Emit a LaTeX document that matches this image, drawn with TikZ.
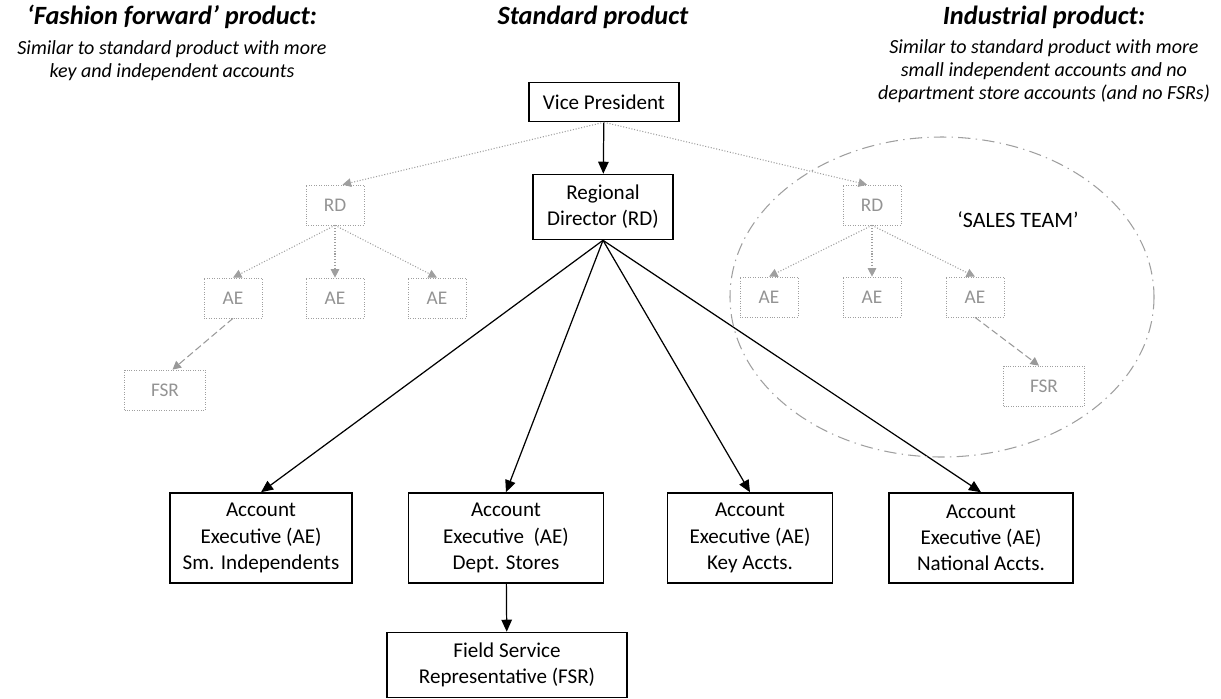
\documentclass[tikz,border=0pt]{standalone}
\usepackage{fontspec}
\setmainfont{Carlito}
\usetikzlibrary{arrows.meta}
\tikzset{
  box/.style={draw, line width=0.9pt, align=center, inner sep=2pt,
    font=\fontsize{12}{14.9}\selectfont},
  ghost/.style={draw=gray!75, densely dotted, text=gray!85, inner sep=1pt,
    minimum width=1.16cm, minimum height=0.8cm, font=\fontsize{11}{13}\selectfont},
  tarr/.style={line width=0.7pt, -{Triangle[length=2.4mm,width=2.1mm]}},
  garr/.style={gray!75, densely dotted, line width=0.6pt,
    -{Triangle[length=1.7mm,width=1.7mm]}},
  gdash/.style={gray!80, dash pattern=on 4pt off 2pt, line width=0.6pt,
    -{Triangle[length=1.7mm,width=1.7mm]}},
  head/.style={font=\fontsize{15}{18}\selectfont\bfseries\itshape},
  sub/.style={align=center, font=\fontsize{11.4}{13.2}\selectfont\itshape}
}

\begin{document}
\begin{tikzpicture}[x=0.02cm, y=-0.02cm]
  \useasboundingbox (0,0) rectangle (1221,698);
  % headings
  \node[head] (hff) at (172,17) {‘Fashion forward’ product:};
  \node[head] (hst) at (593,17) {Standard product};
  \node[head] (hin) at (1044,17) {Industrial product:};
  \node[sub] (sff) at (172,61) {Similar to standard product with more\\key and independent accounts};
  \node[sub] (sin) at (1044,71) {Similar to standard product with more\\small independent accounts and no\\department store accounts (and no FSRs)};

  % standard product
  \node[box, minimum width=3cm, minimum height=0.78cm] (vp) at (604,102) {Vice President};
  \node[box, minimum width=2.8cm, minimum height=1.3cm] (rd) at (603,207) {Regional\\Director (RD)};
  \node[box, minimum width=3.64cm, minimum height=1.8cm] (ae1) at (261,538) {Account\\Executive (AE)\\Sm. Independents};
  \node[box, minimum width=3.9cm, minimum height=1.8cm] (ae2) at (506,538) {Account\\Executive~ (AE)\\Dept. Stores};
  \node[box, minimum width=3.3cm, minimum height=1.8cm] (ae3) at (750,538) {Account\\Executive (AE)\\Key Accts.};
  \node[box, minimum width=3.68cm, minimum height=1.8cm] (ae4) at (981,538) {Account\\Executive (AE)\\National Accts.};
  \node[box, minimum width=4.8cm, minimum height=1.3cm] (fsr) at (507,665) {Field Service\\Representative (FSR)};

  \draw[tarr] (vp) -- (rd);
  \foreach \n in {ae1,ae2,ae3,ae4}
    \draw[tarr] (rd.south) -- (\n.north);
  \draw[tarr] (ae2) -- (fsr);

  % fashion forward (left)
  \node[ghost] (lrd) at (335,205) {RD};
  \node[ghost] (lae1) at (233,298) {AE};
  \node[ghost] (lae2) at (335,298) {AE};
  \node[ghost] (lae3) at (437,298) {AE};
  \node[ghost, minimum width=1.62cm] (lfsr) at (165,390) {FSR};
  \draw[garr] (vp.south) -- ([xshift=0.15cm]lrd.north);
  \foreach \n in {lae1,lae2,lae3}
    \draw[garr] (lrd.south) -- (\n.north);
  \draw[gdash] (lae1.south) -- ([xshift=0.15cm]lfsr.north);

  % industrial (right)
  \node[ghost] (rrd) at (872,205) {RD};
  \node[ghost] (rae1) at (769,297) {AE};
  \node[ghost] (rae2) at (872,297) {AE};
  \node[ghost] (rae3) at (975,297) {AE};
  \node[ghost, minimum width=1.62cm] (rfsr) at (1044,386) {FSR};
  \draw[garr] (vp.south) -- ([xshift=-0.1cm]rrd.north);
  \foreach \n in {rae1,rae2,rae3}
    \draw[garr] (rrd.south) -- (\n.north);
  \draw[gdash] (rae3.south) -- ([xshift=-0.1cm]rfsr.north);

  % sales team
  \draw[gray!75, line width=0.6pt, dash pattern=on 7pt off 3pt on 0.8pt off 3pt]
    (942,297) ellipse [x radius=212, y radius=160];
  \node[font=\fontsize{12.5}{15}\selectfont] (team) at (1018,220) {‘SALES TEAM’};
\end{tikzpicture}
\end{document}
